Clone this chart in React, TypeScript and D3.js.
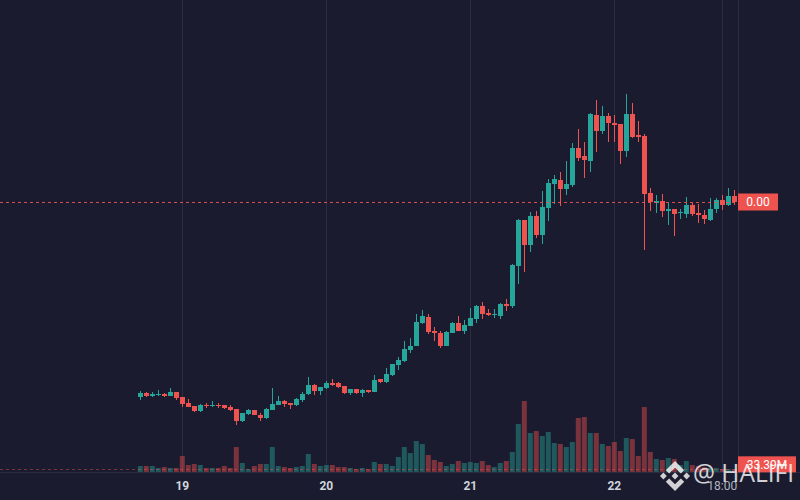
import { useEffect, useRef } from "react";
import * as d3 from "d3";

// hourly candles, prices in units of 0.001
const START = Date.UTC(2024, 0, 18, 17);
const PRICE_UNIT = 0.001;

const opens = [
    1.03, 1.07, 1.04, 1.05, 1.06, 1.04, 1.08, 1.03, 0.97, 0.94,
    0.89, 0.95, 0.94, 0.95, 0.95, 0.93, 0.91, 0.79, 0.86, 0.9,
    0.85, 0.82, 0.9, 0.95, 0.99, 0.97, 0.95, 1.0, 1.06, 1.15,
    1.09, 1.12, 1.17, 1.17, 1.14, 1.07, 1.11, 1.07, 1.1, 1.08,
    1.21, 1.18, 1.25, 1.35, 1.39, 1.5, 1.54, 1.77, 1.83, 1.69,
    1.67, 1.54, 1.67, 1.77, 1.69, 1.74, 1.81, 1.94, 1.87, 1.85,
    1.84, 1.96, 1.94, 2.34, 2.8, 2.55, 2.84, 2.65, 2.92, 3.16,
    3.2, 3.11, 3.15, 3.52, 3.44, 3.39, 3.85, 3.69, 3.84, 3.77,
    3.76, 3.49, 3.86, 3.65, 3.64, 3.07, 2.97, 2.99, 2.89, 2.91,
    2.87, 2.86, 2.95, 2.87, 2.85, 2.8, 2.91, 3.0, 2.95, 3.04,
];

const highs = [
    1.09, 1.08, 1.08, 1.1, 1.07, 1.12, 1.08, 1.03, 1.01, 0.94,
    0.96, 0.97, 0.99, 0.97, 0.95, 0.95, 0.91, 0.87, 0.91, 0.9,
    0.87, 0.92, 1.12, 1.04, 1.0, 0.97, 1.02, 1.08, 1.23, 1.16,
    1.13, 1.19, 1.21, 1.18, 1.14, 1.11, 1.11, 1.11, 1.1, 1.25,
    1.21, 1.32, 1.36, 1.43, 1.59, 1.62, 1.86, 1.9, 1.86, 1.73,
    1.69, 1.69, 1.78, 1.84, 1.8, 1.92, 1.95, 1.98, 1.91, 1.91,
    1.97, 2.01, 2.36, 2.81, 2.8, 2.88, 2.89, 3.09, 3.21, 3.25,
    3.28, 3.39, 3.57, 3.71, 3.58, 3.87, 4.0, 3.94, 3.87, 3.85,
    3.76, 4.06, 3.97, 3.79, 3.66, 3.12, 3.05, 3.06, 2.98, 2.91,
    2.91, 3.03, 2.97, 2.96, 2.9, 3.02, 3.02, 3.05, 3.12, 3.1,
];

const lows = [
    1.0, 1.03, 1.03, 1.04, 1.03, 1.04, 1.0, 0.93, 0.93, 0.88,
    0.88, 0.92, 0.93, 0.92, 0.91, 0.89, 0.75, 0.78, 0.85, 0.85,
    0.79, 0.81, 0.9, 0.95, 0.93, 0.91, 0.94, 0.98, 1.05, 1.05,
    1.05, 1.11, 1.14, 1.12, 1.06, 1.05, 1.06, 1.03, 1.07, 1.08,
    1.17, 1.17, 1.24, 1.3, 1.38, 1.47, 1.54, 1.76, 1.66, 1.59,
    1.52, 1.54, 1.67, 1.69, 1.66, 1.74, 1.77, 1.81, 1.84, 1.82,
    1.81, 1.89, 1.92, 2.16, 2.28, 2.48, 2.62, 2.56, 2.79, 2.96,
    2.94, 3.05, 3.13, 3.39, 3.22, 3.28, 3.48, 3.66, 3.58, 3.58,
    3.36, 3.43, 3.62, 3.58, 2.5, 2.89, 2.87, 2.83, 2.75, 2.64,
    2.81, 2.82, 2.84, 2.77, 2.76, 2.79, 2.87, 2.9, 2.94, 2.95,
];

const closes = [
    1.07, 1.04, 1.06, 1.06, 1.04, 1.08, 1.02, 0.96, 0.93, 0.89,
    0.95, 0.94, 0.95, 0.94, 0.92, 0.9, 0.79, 0.87, 0.9, 0.85,
    0.82, 0.91, 0.96, 0.99, 0.96, 0.95, 1.01, 1.06, 1.15, 1.09,
    1.13, 1.17, 1.15, 1.13, 1.07, 1.11, 1.07, 1.1, 1.08, 1.2,
    1.18, 1.26, 1.36, 1.4, 1.51, 1.54, 1.78, 1.84, 1.68, 1.67,
    1.54, 1.68, 1.77, 1.69, 1.75, 1.82, 1.94, 1.86, 1.85, 1.86,
    1.96, 1.94, 2.35, 2.8, 2.55, 2.84, 2.65, 2.93, 3.17, 3.21,
    3.11, 3.16, 3.52, 3.42, 3.4, 3.86, 3.69, 3.84, 3.77, 3.75,
    3.49, 3.86, 3.63, 3.63, 3.06, 2.98, 2.99, 2.89, 2.91, 2.86,
    2.88, 2.95, 2.86, 2.85, 2.81, 2.91, 3.0, 2.95, 3.04, 2.98,
];

// volume in millions
const volumes = [
    75, 75, 75, 50, 62, 50, 50, 200, 87, 100,
    87, 50, 50, 50, 75, 50, 312, 112, 37, 75,
    100, 100, 312, 75, 62, 50, 62, 75, 225, 100,
    75, 87, 87, 62, 62, 50, 37, 50, 37, 125,
    100, 100, 75, 187, 312, 237, 387, 350, 212, 150,
    125, 75, 100, 137, 112, 125, 112, 137, 87, 62,
    112, 137, 250, 600, 887, 487, 512, 450, 500, 362,
    350, 312, 375, 675, 687, 487, 487, 350, 325, 375,
    262, 425, 412, 200, 812, 250, 162, 150, 175, 162,
    87, 137, 87, 75, 62, 50, 50, 37, 37, 33.39,
];

const tickTimes = [
    Date.UTC(2024, 0, 19),
    Date.UTC(2024, 0, 20),
    Date.UTC(2024, 0, 21),
    Date.UTC(2024, 0, 22),
    Date.UTC(2024, 0, 22, 18),
];

const UP = "#26a69a";
const DOWN = "#ef5350";
const BG = "#1a1b2e";
const GRID = "#2b2c40";

// binance logo paths (126.6 box)
const logoPaths = [
    "M38.73 53.2l24.59-24.58 24.6 24.6 14.3-14.31L63.32 0 24.42 38.9l14.31 14.3z",
    "M0 63.31l14.3-14.31 14.31 14.31-14.31 14.3z",
    "M38.73 73.41l24.59 24.59 24.6-24.6 14.31 14.29-38.9 38.91-38.91-38.88-.02-.02 14.33-14.29z",
    "M98.01 63.31l14.3-14.31 14.31 14.3-14.31 14.32z",
    "M77.83 63.3L63.32 48.78 52.59 59.51l-1.24 1.23-2.54 2.54-.02.02.02.03 14.51 14.5 14.51-14.52.01-.01-.01-.01z",
];

export default function App() {
    const svgRef = useRef<SVGSVGElement | null>(null);

    useEffect(() => {
        if (!svgRef.current) return;
        d3.select(svgRef.current).selectAll("*").remove();

        const width = 800;
        const height = 500;
        const plotRight = 738;
        const plotBottom = 472;

        const candles = opens.map((o, i) => ({
            t: new Date(START + i * 3600 * 1000),
            o,
            h: highs[i],
            l: lows[i],
            c: closes[i],
            v: volumes[i],
        }));

        const svg = d3
            .select(svgRef.current)
            .attr("width", width)
            .attr("height", height)
            .style("font-family", "Roboto, 'Open Sans', sans-serif");

        svg.append("rect")
            .attr("width", width)
            .attr("height", height)
            .attr("fill", BG);

        const x = d3
            .scaleUtc()
            .domain([new Date(tickTimes[0]), new Date(tickTimes[3])])
            .range([182.3, 614.3]);
        const y = d3.scaleLinear().domain([0, 5]).range([500, 0]);
        const yVol = d3.scaleLinear().domain([0, 900]).range([plotBottom, 400]);

        // vertical grid
        svg.selectAll(".grid")
            .data(tickTimes)
            .enter()
            .append("line")
            .attr("x1", (d) => Math.round(x(new Date(d))) + 0.5)
            .attr("x2", (d) => Math.round(x(new Date(d))) + 0.5)
            .attr("y1", 0)
            .attr("y2", plotBottom)
            .attr("stroke", GRID)
            .attr("stroke-width", 1);

        // price scale border + time scale border
        svg.append("line")
            .attr("x1", plotRight + 0.5)
            .attr("x2", plotRight + 0.5)
            .attr("y1", 0)
            .attr("y2", plotBottom)
            .attr("stroke", GRID);
        svg.append("line")
            .attr("x1", 0)
            .attr("x2", width)
            .attr("y1", plotBottom + 0.5)
            .attr("y2", plotBottom + 0.5)
            .attr("stroke", GRID);

        // volume bars
        const barW = 5;
        svg.selectAll(".vol")
            .data(candles)
            .enter()
            .append("rect")
            .attr("x", (d) => x(d.t) - barW / 2)
            .attr("y", (d) => yVol(d.v))
            .attr("width", barW)
            .attr("height", (d) => plotBottom - yVol(d.v))
            .attr("fill", (d) => (d.c >= d.o ? UP : DOWN))
            .attr("opacity", 0.45);

        // candles
        const g = svg
            .selectAll(".candle")
            .data(candles)
            .enter()
            .append("g");

        g.append("line")
            .attr("x1", (d) => Math.round(x(d.t)) + 0.5)
            .attr("x2", (d) => Math.round(x(d.t)) + 0.5)
            .attr("y1", (d) => y(d.h))
            .attr("y2", (d) => y(d.l))
            .attr("stroke", (d) => (d.c >= d.o ? UP : DOWN))
            .attr("stroke-width", 1);

        g.append("rect")
            .attr("x", (d) => Math.round(x(d.t)) + 0.5 - barW / 2)
            .attr("y", (d) => y(Math.max(d.o, d.c)))
            .attr("width", barW)
            .attr("height", (d) => Math.max(1, Math.abs(y(d.o) - y(d.c))))
            .attr("fill", (d) => (d.c >= d.o ? UP : DOWN));

        const last = candles[candles.length - 1];

        // last price line
        svg.append("line")
            .attr("x1", 0)
            .attr("x2", plotRight)
            .attr("y1", Math.round(y(last.c)) + 0.5)
            .attr("y2", Math.round(y(last.c)) + 0.5)
            .attr("stroke", DOWN)
            .attr("stroke-opacity", 0.9)
            .attr("stroke-dasharray", "3,3");

        // last volume line
        svg.append("line")
            .attr("x1", 0)
            .attr("x2", plotRight)
            .attr("y1", Math.round(yVol(last.v)) + 0.5)
            .attr("y2", Math.round(yVol(last.v)) + 0.5)
            .attr("stroke", DOWN)
            .attr("stroke-opacity", 0.45)
            .attr("stroke-dasharray", "3,3");

        // price label
        const py = y(last.c);
        svg.append("rect")
            .attr("x", plotRight)
            .attr("y", py - 8.5)
            .attr("width", 40)
            .attr("height", 17)
            .attr("fill", DOWN);
        svg.append("text")
            .attr("x", plotRight + 20)
            .attr("y", py)
            .attr("dy", "0.35em")
            .attr("text-anchor", "middle")
            .attr("fill", "#ffffff")
            .attr("font-size", "12px")
            .text((last.c * PRICE_UNIT).toFixed(2));

        // volume label
        const vy = yVol(last.v);
        svg.append("rect")
            .attr("x", plotRight)
            .attr("y", vy - 13)
            .attr("width", 58)
            .attr("height", 16)
            .attr("fill", DOWN);
        svg.append("text")
            .attr("x", plotRight + 29)
            .attr("y", vy - 5)
            .attr("dy", "0.35em")
            .attr("text-anchor", "middle")
            .attr("fill", "#ffffff")
            .attr("font-size", "12px")
            .text(`${last.v.toFixed(2)}M`);

        // time axis labels
        const dayFmt = d3.utcFormat("%-d");
        const hourFmt = d3.utcFormat("%H:%M");
        svg.selectAll(".tick")
            .data(tickTimes)
            .enter()
            .append("text")
            .attr("x", (d) => x(new Date(d)))
            .attr("y", 486)
            .attr("dy", "0.35em")
            .attr("text-anchor", "middle")
            .attr("font-size", "12px")
            .attr("font-weight", (d) => (new Date(d).getUTCHours() === 0 ? "bold" : "normal"))
            .attr("fill", (d) => (new Date(d).getUTCHours() === 0 ? "#d1d4dc" : "#b2b5be"))
            .text((d) => {
                const dt = new Date(d);
                return dt.getUTCHours() === 0 ? dayFmt(dt) : hourFmt(dt);
            });

        // watermark
        const wm = svg.append("g").attr("opacity", 0.8);
        wm.append("g")
            .attr("transform", "translate(660,461) scale(0.237)")
            .selectAll("path")
            .data(logoPaths)
            .enter()
            .append("path")
            .attr("d", (d) => d)
            .attr("fill", "#ffffff");
        wm.append("text")
            .attr("x", 693)
            .attr("y", 482)
            .attr("font-size", "26px")
            .attr("font-family", "'Open Sans', sans-serif")
            .attr("textLength", 101)
            .attr("lengthAdjust", "spacingAndGlyphs")
            .attr("fill", "#ffffff")
            .text("@ HALIFI");
    }, []);

    return (
        <svg
            ref={svgRef}
            style={{ position: "absolute", left: 0, top: 0, display: "block" }}
        />
    );
}
